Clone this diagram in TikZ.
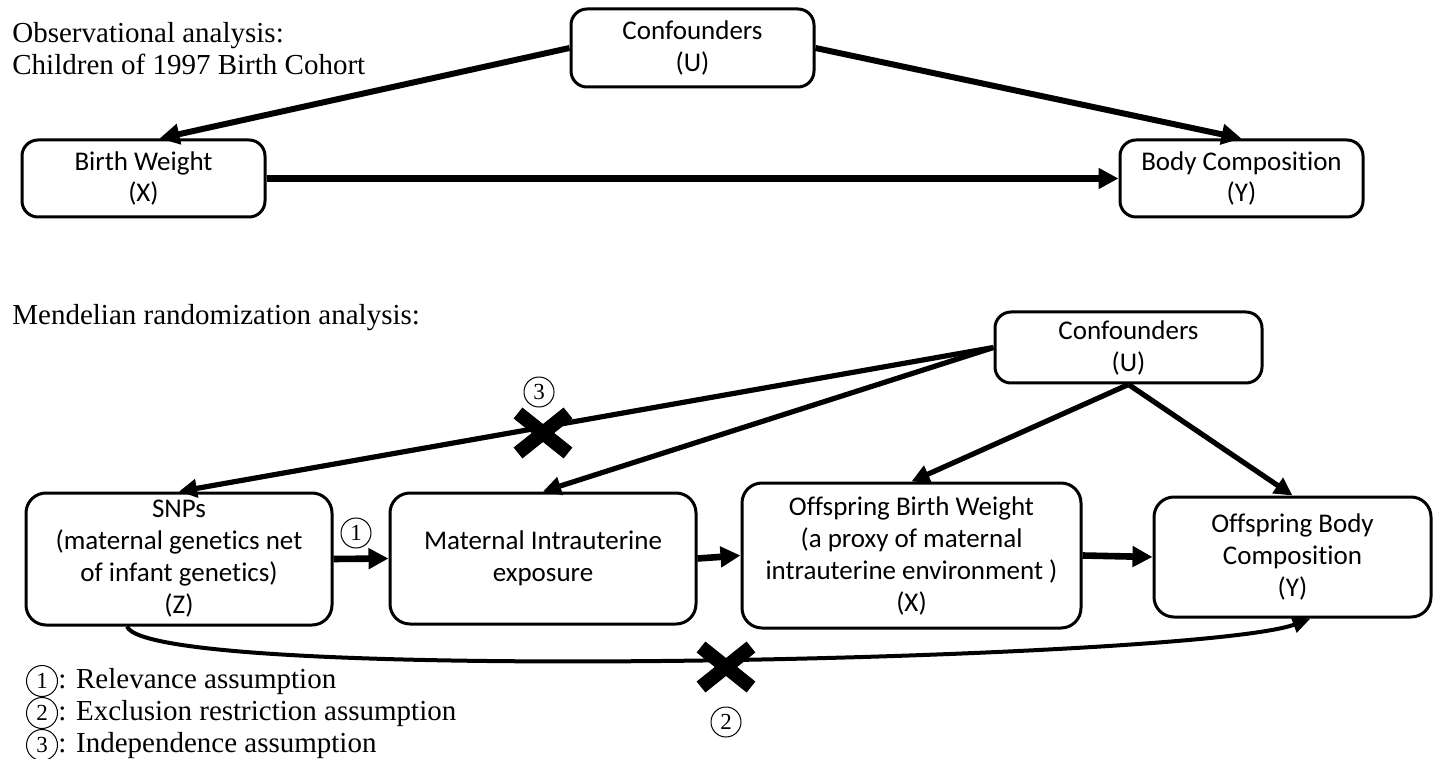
\documentclass[tikz,border=0pt]{standalone}
\usepackage{fontspec}
\setmainfont{Liberation Serif}
\newfontfamily\boxfont{Carlito}[RawFeature={-liga;-clig;-calt;-dlig}]
\usetikzlibrary{arrows.meta}

\begin{document}
\begin{tikzpicture}[x=0.5pt,y=-0.5pt,
    box/.style={draw,line width=1.5pt,rounded corners=8pt,align=center,inner sep=2pt,
        font=\boxfont\fontsize{13.5}{16}\selectfont},
    head/.style={font=\fontsize{14.5}{16}\selectfont,inner sep=0pt,anchor=base west},
    num/.style={circle,draw,line width=0.5pt,minimum size=15pt,inner sep=0pt,
        font=\fontsize{11.5}{11.5}\selectfont},
    link/.style={line width=3.3pt,-{Triangle[length=10pt,width=10pt]}},
    slant/.style={line width=2.6pt,-{Triangle[length=9pt,width=9pt]}},
    xmark/.pic={\draw[line width=7pt] (-25,-20) -- (25,20) (-25,20) -- (25,-20);}]
\useasboundingbox (0,0) rectangle (1436,759);

% observational analysis
\node[head] (obs1) at (12,43) {Observational analysis:};
\node[head] (obs2) at (12,75) {Children of 1997 Birth Cohort};
\node[box,minimum width=121.5pt,minimum height=39pt] (oU) at (692.5,48) {Confounders\\(U)};
\node[box,minimum width=121.5pt,minimum height=38.5pt] (oX) at (143.5,178.5) {Birth Weight\\(X)};
\node[box,minimum width=121.5pt,minimum height=38.5pt] (oY) at (1241.5,178.5) {Body Composition\\(Y)};
\draw[link,line width=3pt] (oU.west) -- ([xshift=8pt]oX.north);
\draw[link,line width=3pt] (oU.east) -- (oY.north);
\draw[link,line width=3.6pt] (oX.east) -- (oY.west);

% mendelian randomization
\node[head] (mr) at (12,325) {Mendelian randomization analysis:};
\node[box,minimum width=133.5pt,minimum height=35.5pt] (mU) at (1128.5,347.5) {Confounders\\(U)};
\node[box,rounded corners=10pt,minimum width=153pt,minimum height=66pt] (mZ) at (179,559)
    {SNPs\\(maternal genetics net\\of infant genetics)\\(Z)};
\node[box,rounded corners=10pt,minimum width=153pt,minimum height=65.5pt] (mM) at (543,558.5)
    {Maternal Intrauterine\\exposure};
\node[box,rounded corners=10pt,minimum width=169.5pt,minimum height=72.5pt] (mX) at (911.5,555.5)
    {Offspring Birth Weight\\(a proxy of maternal\\intrauterine environment )\\(X)};
\node[box,rounded corners=10pt,minimum width=138.5pt,minimum height=60pt] (mY) at (1292.5,557)
    {Offspring Body\\Composition\\(Y)};

\draw[slant] (mU.west) -- (mZ.north);
\draw[slant] (mU.west) -- (mM.north);
\draw[slant] (mU.south) -- (mX.north);
\draw[slant] (mU.south) -- (mY.north);
\draw[link] (mZ.east) -- (mM.west);
\draw[link] (mM.east) -- (mX.west);
\draw[link] (mX.east) -- (mY.west);
\draw[line width=2pt,-{Triangle[length=9pt,width=8pt]}] ([xshift=-26pt]mZ.south)
    .. controls (150,685) and (1200,660) .. ([xshift=9pt]mY.south);

% assumptions
\pic at (543,433) {xmark};
\pic at (726,667) {xmark};
\node[num] (n1) at (356,533) {1};
\node[num] (n2) at (726,722) {2};
\node[num] (n3) at (539,392) {3};

\node[num,minimum size=15.5pt] (l1) at (42,681) {1};
\node[head] (t1) at (l1.base -| l1.east) {: Relevance assumption};
\node[num,minimum size=15.5pt] (l2) at (42,713) {2};
\node[head] (t2) at (l2.base -| l2.east) {: Exclusion restriction assumption};
\node[num,minimum size=15.5pt] (l3) at (42,745) {3};
\node[head] (t3) at (l3.base -| l3.east) {: Independence assumption};
\end{tikzpicture}
\end{document}
